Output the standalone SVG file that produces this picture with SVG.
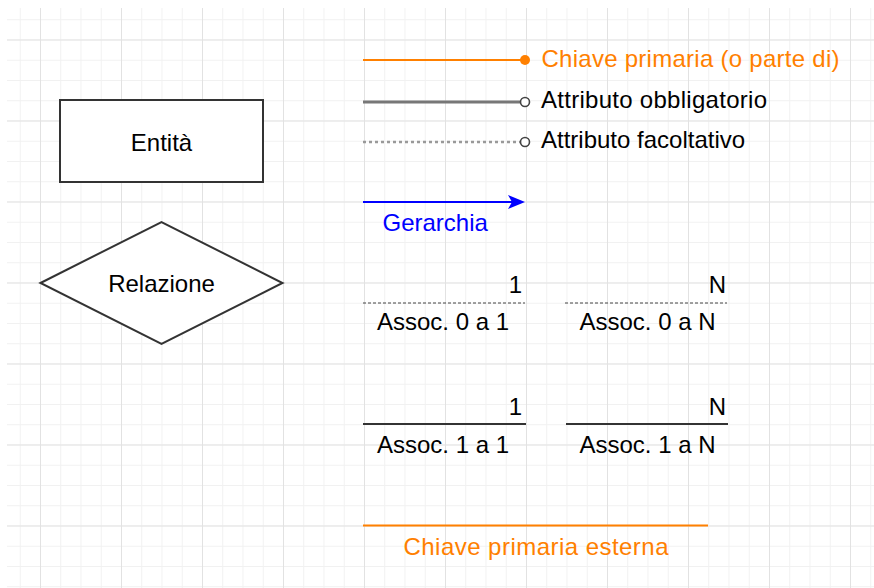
<svg xmlns="http://www.w3.org/2000/svg" width="874" height="588" viewBox="0 0 874 588">
  <style>
    text { font-family: "Liberation Sans", Arial, sans-serif; font-size: 24px; fill: #000; }
    .orange { fill: #FF8000; }
    .blue { fill: #0000FF; }
    .mid { text-anchor: middle; }
    .end { text-anchor: end; }
    .shape { fill: #fff; stroke: #333; stroke-width: 2; }
  </style>
  <defs>
    <pattern id="minor" patternUnits="userSpaceOnUse" x="40" y="39.5" width="20.25" height="20.25">
      <path d="M0.5 0 V20.25 M0 0.5 H20.25" stroke="#f1f1f1" stroke-width="1" fill="none"/>
    </pattern>
    <pattern id="major" patternUnits="userSpaceOnUse" x="40" y="39.5" width="81" height="81">
      <path d="M0.5 0 V81 M0 0.5 H81" stroke="#e2e2e2" stroke-width="1" fill="none"/>
    </pattern>
    <marker id="arrow" markerUnits="userSpaceOnUse" viewBox="0 0 17 14" refX="12" refY="7" markerWidth="17" markerHeight="14" orient="auto">
      <path d="M0,0 L17,7 L0,14 L4,7 Z" fill="#0000FF"/>
    </marker>
  </defs>

  <rect width="874" height="588" fill="#fff"/>
  <g id="grid">
    <rect x="7" y="8" width="867" height="580" fill="url(#minor)"/>
    <rect x="7" y="8" width="867" height="580" fill="url(#major)"/>
  </g>

  <g id="connectors">
    <line x1="363" y1="60" x2="525" y2="60" stroke="#FF8000" stroke-width="1.8"/>
    <line x1="363" y1="102" x2="520" y2="102" stroke="#777" stroke-width="3"/>
    <line x1="363" y1="142" x2="520" y2="142" stroke="#999" stroke-width="2.5" stroke-dasharray="3 3"/>
    <line x1="363" y1="202" x2="520" y2="202" stroke="#0000FF" stroke-width="1.8" marker-end="url(#arrow)"/>
    <line x1="363" y1="303" x2="525" y2="303" stroke="#444" stroke-width="1" stroke-dasharray="3 2"/>
    <line x1="565" y1="303" x2="727" y2="303" stroke="#444" stroke-width="1" stroke-dasharray="3 2"/>
    <line x1="363" y1="424" x2="526" y2="424" stroke="#333" stroke-width="2"/>
    <line x1="566" y1="424" x2="728" y2="424" stroke="#333" stroke-width="2"/>
    <line x1="363" y1="525.5" x2="708" y2="525.5" stroke="#FF8000" stroke-width="1.8"/>
    <circle cx="525" cy="60" r="5" fill="#FF8000"/>
    <circle cx="525" cy="102" r="4.5" fill="#fff" stroke="#444" stroke-width="1.6"/>
    <circle cx="525" cy="142" r="4.5" fill="#fff" stroke="#444" stroke-width="1.6"/>
  </g>

  <g id="entita">
    <rect class="shape" x="60" y="100" width="203" height="82"/>
    <text class="mid" x="161.5" y="151">Entità</text>
  </g>
  <g id="relazione">
    <polygon class="shape" points="40.5,283 161.5,222 282.5,283 161.5,344"/>
    <text class="mid" x="161.5" y="292">Relazione</text>
  </g>

  <g id="label-chiave-primaria">
    <text class="orange" x="541.5" y="67" textLength="298" lengthAdjust="spacing">Chiave primaria (o parte di)</text>
  </g>
  <g id="label-obbligatorio">
    <text x="541" y="108" textLength="226" lengthAdjust="spacing">Attributo obbligatorio</text>
  </g>
  <g id="label-facoltativo">
    <text x="541" y="148">Attributo facoltativo</text>
  </g>
  <g id="label-gerarchia">
    <text class="blue" x="382.5" y="231">Gerarchia</text>
  </g>
  <g id="assoc-0-1">
    <text class="end" x="522" y="293">1</text>
    <text class="mid" x="443" y="330">Assoc. 0 a 1</text>
  </g>
  <g id="assoc-0-n">
    <text class="end" x="726" y="293">N</text>
    <text class="mid" x="647.5" y="330">Assoc. 0 a N</text>
  </g>
  <g id="assoc-1-1">
    <text class="end" x="522" y="415">1</text>
    <text class="mid" x="443" y="453">Assoc. 1 a 1</text>
  </g>
  <g id="assoc-1-n">
    <text class="end" x="726" y="415">N</text>
    <text class="mid" x="647.5" y="453">Assoc. 1 a N</text>
  </g>
  <g id="label-chiave-esterna">
    <text class="orange mid" x="536" y="555" textLength="265" lengthAdjust="spacing">Chiave primaria esterna</text>
  </g>
</svg>
